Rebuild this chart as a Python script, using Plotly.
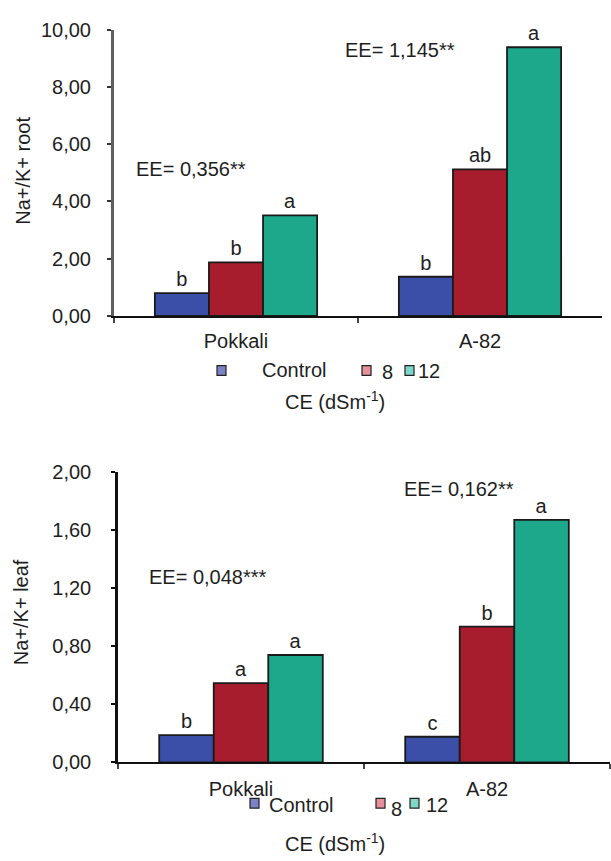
import plotly.graph_objects as go

W, H = 611, 861

# Data
cultivars = ["Pokkali", "A-82"]
treatments = ["Control", "8", "12"]

root_control = [0.80, 1.37]
root_8 = [1.87, 5.12]
root_12 = [3.51, 9.38]
root_letters_control = ["b", "b"]
root_letters_8 = ["b", "ab"]
root_letters_12 = ["a", "a"]
root_ee = ["EE= 0,356**", "EE= 1,145**"]

leaf_control = [0.187, 0.176]
leaf_8 = [0.545, 0.935]
leaf_12 = [0.739, 1.669]
leaf_letters_control = ["b", "c"]
leaf_letters_8 = ["a", "b"]
leaf_letters_12 = ["a", "a"]
leaf_ee = ["EE= 0,048***", "EE= 0,162**"]

root_ticks = [0, 2, 4, 6, 8, 10]
root_ticktext = ["0,00", "2,00", "4,00", "6,00", "8,00", "10,00"]
leaf_ticks = [0, 0.4, 0.8, 1.2, 1.6, 2.0]
leaf_ticktext = ["0,00", "0,40", "0,80", "1,20", "1,60", "2,00"]

bar_colors = ["#3b4ea8", "#a81d2e", "#1ea88b"]
legend_colors = ["#7c82c6", "#e6909c", "#7fd6c6"]

FONT = "Liberation Sans, Arial, sans-serif"
FS = 20
TXT = "#1e1e1e"


def px(x):
    return x / W


def py(y):
    return 1 - y / H


fig = go.Figure()

panels = [
    ("x", "y", [root_control, root_8, root_12],
     [root_letters_control, root_letters_8, root_letters_12]),
    ("x2", "y2", [leaf_control, leaf_8, leaf_12],
     [leaf_letters_control, leaf_letters_8, leaf_letters_12]),
]

for xa, ya, series, letters in panels:
    for name, vals, lab, col in zip(treatments, series, letters, bar_colors):
        fig.add_trace(go.Bar(
            x=cultivars, y=vals, name=name, xaxis=xa, yaxis=ya,
            marker=dict(color=col, line=dict(color="#1a1a1a", width=1.8)),
            text=lab, textposition="outside", cliponaxis=False,
            textfont=dict(family=FONT, size=FS, color=TXT),
            showlegend=False, hoverinfo="skip",
        ))

axis_common = dict(
    showgrid=False, zeroline=False, showline=True,
    ticks="outside", tickwidth=2,
    tickfont=dict(family=FONT, size=FS, color=TXT),
)

fig.update_layout(
    width=W, height=H,
    margin=dict(l=0, r=0, t=0, b=0),
    paper_bgcolor="white", plot_bgcolor="white",
    barmode="group", bargap=0.335, bargroupgap=0,
    showlegend=False,
    xaxis=dict(axis_common, domain=[px(114), px(602)], anchor="y",
               range=[-0.5, 1.5], tickson="boundaries", ticklen=5,
               linewidth=2, linecolor="#111", tickcolor="#444",
               ticklabelstandoff=6),
    yaxis=dict(axis_common, domain=[py(313), py(19)], anchor="x",
               range=[0, 10], tickvals=root_ticks, ticktext=root_ticktext,
               ticklen=4, linewidth=3, linecolor="#5e5e5e", tickcolor="#333",
               ticklabelstandoff=12),
    xaxis2=dict(axis_common, domain=[px(118), px(610)], anchor="y2",
                range=[-0.5, 1.5], tickson="boundaries", ticklen=5,
                linewidth=2, linecolor="#111", tickcolor="#444",
                ticklabelstandoff=8),
    yaxis2=dict(axis_common, domain=[py(771), py(473)], anchor="x2",
                range=[0, 2], tickvals=leaf_ticks, ticktext=leaf_ticktext,
                ticklen=4, linewidth=2.5, linecolor="#111", tickcolor="#111",
                ticklabelstandoff=16),
)

annotations = []
shapes = []


def text(x, y, s, xanchor="left", angle=0, size=FS):
    annotations.append(dict(
        x=px(x), y=py(y), xref="paper", yref="paper", text=s,
        showarrow=False, xanchor=xanchor, yanchor="middle",
        textangle=angle, font=dict(family=FONT, size=size, color=TXT),
    ))


def square(x0, y0, x1, y1, color):
    shapes.append(dict(
        type="rect", xref="paper", yref="paper",
        x0=px(x0), x1=px(x1), y0=py(y1), y1=py(y0),
        fillcolor=color, line=dict(color="#222", width=1.2),
    ))


# Axis titles
text(23, 164, "Na+/K+ root", xanchor="center", angle=-90)
text(21, 617, "Na+/K+ leaf", xanchor="center", angle=-90)

# EE annotations
text(134, 162, root_ee[0])
text(343, 40, root_ee[1])
text(147, 581, leaf_ee[0])
text(402, 491, leaf_ee[1])

# Legend rows (top panel)
square(217, 364, 226, 374, legend_colors[0])
text(260, 368, treatments[0])
square(362, 364, 371, 374, legend_colors[1])
text(380, 370, treatments[1])
square(405, 364, 414, 374, legend_colors[2])
text(416, 369, treatments[2])
text(335, 400, "CE (dSm<sup>-1</sup>)", xanchor="center")

# Legend rows (bottom panel)
square(250, 808, 259, 818, legend_colors[0])
text(267, 815, treatments[0])
square(376, 808, 385, 818, legend_colors[1])
text(389, 819, treatments[1])
square(410, 808, 419, 818, legend_colors[2])
text(424, 815, treatments[2])
text(335, 853, "CE (dSm<sup>-1</sup>)", xanchor="center")

fig.update_layout(annotations=annotations, shapes=shapes)

fig.write_html("out.html")
